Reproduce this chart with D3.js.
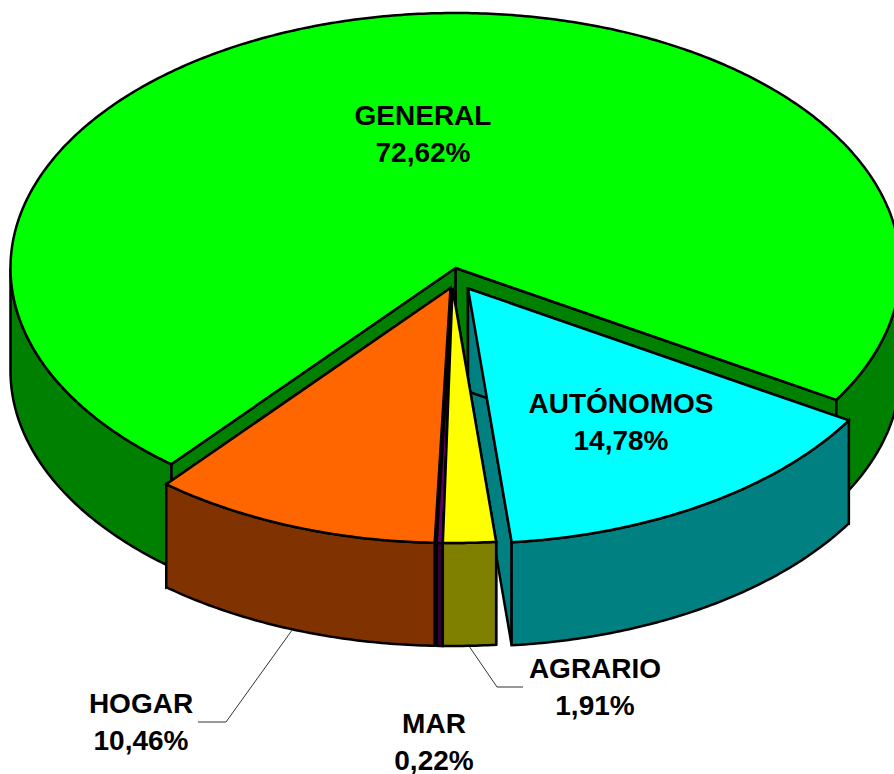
<!DOCTYPE html>
<html>
<head>
<meta charset="utf-8">
<script src="https://cdn.jsdelivr.net/npm/d3@7"></script>
<style>
html, body { margin: 0; padding: 0; background: #fff; }
svg { display: block; }
text { font-family: "Liberation Sans", Arial, sans-serif; font-weight: bold; font-size: 28px; fill: #000; }
</style>
</head>
<body>
<div id="chart"></div>
<script>
var categories = ["GENERAL", "AUTÓNOMOS", "AGRARIO", "MAR", "HOGAR"];
var values = [72.62, 14.78, 1.91, 0.22, 10.46];
var valueLabels = ["72,62%", "14,78%", "1,91%", "0,22%", "10,46%"];

var w = 894;
var h = 774;

// pie geometry
var cx = 455.5;
var cy = 268;
var rx = 445;
var ry = 255;
var depth = 103;
var firstAngle = 219.7 * Math.PI / 180;

// styles and layout, same order as categories
var topColors = ["#00ff00", "#00ffff", "#ffff00", "#660066", "#ff6600"];
var sideColors = ["#008000", "#008080", "#808000", "#330033", "#803300"];
var explode = [[0, 0], [12.5, 20.5], [-3, 20], [-3, 20], [-5, 20]];
var labelPos = [[423, 125], [621, 413], [595, 678], [434, 733], [141, 713]];
var lineGap = 37;
var drawOrder = [0, 1, 4, 3, 2];

var xscale = d3.scaleLinear().domain([-1, 1]).range([cx - rx, cx + rx]);
var yscale = d3.scaleLinear().domain([-1, 1]).range([cy - ry, cy + ry]);

var pie = d3.pie()
    .sort(null)
    .startAngle(firstAngle)
    .endAngle(firstAngle + 2 * Math.PI);
var slices = pie(values);

function rimPoint(a) {
    return [xscale(Math.sin(a)), yscale(-Math.cos(a))];
}

function rim(a0, a1) {
    var n = Math.max(2, Math.ceil(Math.abs(a1 - a0) / 0.01));
    return d3.range(n + 1).map(function(i) {
        return rimPoint(a0 + (a1 - a0) * i / n);
    });
}

function down(points) {
    return points.map(function(p) { return [p[0], p[1] + depth]; });
}

var line = d3.line();

var svg = d3.select("#chart")
    .append("svg")
    .attr("width", w)
    .attr("height", h);

// the parts of the arc that face the viewer
var frontRanges = [[Math.PI / 2, 3 * Math.PI / 2], [5 * Math.PI / 2, 7 * Math.PI / 2]];

drawOrder.forEach(function(i) {
    var s = slices[i];
    var g = svg.append("g")
        .attr("transform", "translate(" + explode[i][0] + "," + explode[i][1] + ")")
        .attr("stroke", "#000")
        .attr("stroke-width", 2.5)
        .attr("stroke-linejoin", "miter");

    // cut faces
    [s.endAngle, s.startAngle].forEach(function(a) {
        var edge = [[cx, cy], rimPoint(a)];
        g.append("path")
            .attr("d", line(edge.concat(down(edge).reverse())) + "Z")
            .attr("fill", sideColors[i]);
    });

    // outer wall
    frontRanges.forEach(function(r) {
        var a0 = Math.max(s.startAngle, r[0]);
        var a1 = Math.min(s.endAngle, r[1]);
        if (a1 <= a0) return;
        var arc = rim(a0, a1);
        g.append("path")
            .attr("d", line(arc.concat(down(arc).reverse())) + "Z")
            .attr("fill", sideColors[i]);
    });

    // top
    g.append("path")
        .attr("d", line([[cx, cy]].concat(rim(s.startAngle, s.endAngle))) + "Z")
        .attr("fill", topColors[i]);
});

// leader lines for HOGAR and AGRARIO, start on the bottom rim at the middle of the slice
function leader(i, elbow, end) {
    var mid = (slices[i].startAngle + slices[i].endAngle) / 2;
    var p = rimPoint(mid);
    var start = [p[0] + explode[i][0], p[1] + explode[i][1] + depth + 1];
    svg.append("path")
        .attr("d", line([start, elbow, end]))
        .attr("fill", "none")
        .attr("stroke", "#333")
        .attr("stroke-width", 1);
}
leader(4, [226, 722], [198, 722]);
leader(2, [497, 687], [523, 687]);

var labels = svg.selectAll(".lab")
    .data(categories)
    .enter()
    .append("text")
    .attr("class", "lab")
    .attr("text-anchor", "middle");

labels.append("tspan")
    .attr("x", function(d, i) { return labelPos[i][0]; })
    .attr("y", function(d, i) { return labelPos[i][1]; })
    .text(function(d) { return d; });

labels.append("tspan")
    .attr("x", function(d, i) { return labelPos[i][0]; })
    .attr("y", function(d, i) { return labelPos[i][1] + lineGap; })
    .text(function(d, i) { return valueLabels[i]; });
</script>
</body>
</html>
